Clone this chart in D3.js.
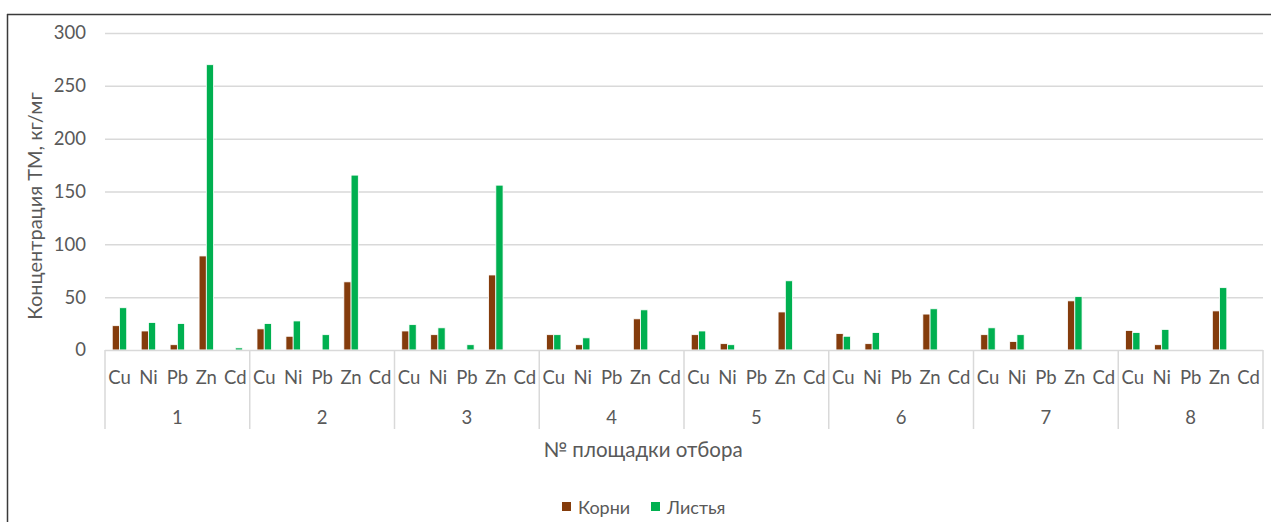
<!DOCTYPE html>
<html>
<head>
<meta charset="utf-8">
<script src="https://cdn.jsdelivr.net/npm/d3@7/dist/d3.min.js"></script>
<style>
  html, body { margin: 0; padding: 0; background: #fff; }
  svg { display: block; font-family: Lato, "Open Sans", sans-serif; }
</style>
</head>
<body>
<svg id="chart" width="1271" height="522"></svg>
<script>
// Sampling sites and metals
const sites = ["1", "2", "3", "4", "5", "6", "7", "8"];
const metals = ["Cu", "Ni", "Pb", "Zn", "Cd"];
const seriesNames = ["Корни", "Листья"];
const seriesColors = ["#843C0C", "#00B050"];
const yTicks = [0, 50, 100, 150, 200, 250, 300];

// Concentrations per site, in metal order Cu, Ni, Pb, Zn, Cd
const roots = [
  [23, 18, 5, 89, 0],
  [20, 13, 0, 64.5, 0],
  [18, 14.5, 0, 71, 0],
  [14.5, 5, 0, 29.5, 0],
  [14.5, 6, 0, 36, 0],
  [15.5, 6, 0, 34, 0],
  [14.5, 8, 0, 46.5, 0],
  [18.5, 5, 0, 37, 0]
];
const leaves = [
  [40, 26, 25, 270, 2],
  [25, 27.5, 14.5, 165.5, 0],
  [24, 21, 5, 156, 0],
  [14.5, 11.5, 0, 38, 0],
  [18, 5, 0, 65.5, 0],
  [13, 16.5, 0, 39, 0],
  [21, 14.5, 0, 50.5, 0],
  [16.5, 19.5, 0, 59, 0]
];

const svg = d3.select("#chart");
const W = 1271, H = 522;
const plot = { left: 105, right: 1263, top: 33, bottom: 350 };
const textColor = "#595959";
const gridColor = "#D9D9D9";
const tickFont = "18.5px";

// Frame edges
svg.append("line").attr("x1", 7).attr("x2", W).attr("y1", 14.5).attr("y2", 14.5)
  .attr("stroke", "#3a3a3a").attr("stroke-width", 1.5);
svg.append("line").attr("x1", 7.5).attr("x2", 7.5).attr("y1", 14).attr("y2", H)
  .attr("stroke", "#3a3a3a").attr("stroke-width", 1.5);

// Flattened category list: one slot per (site, metal)
const cats = [];
sites.forEach((s, i) => metals.forEach((m, j) => cats.push({ site: s, metal: m, si: i, key: s + "-" + m,
  vals: [roots[i][j], leaves[i][j]] })));

const x = d3.scaleBand().domain(cats.map(d => d.key))
  .range([plot.left, plot.right]).paddingInner(0.5).paddingOuter(0.25);
const xs = d3.scaleBand().domain(seriesNames).range([0, x.bandwidth()]).padding(0);
const y = d3.scaleLinear().domain([0, 300]).range([plot.bottom, plot.top]);

// Gridlines
svg.append("g").selectAll("line").data(yTicks.filter(t => t > 0)).join("line")
  .attr("x1", plot.left).attr("x2", plot.right)
  .attr("y1", d => y(d) + 0.5).attr("y2", d => y(d) + 0.5)
  .attr("stroke", gridColor).attr("stroke-width", 1.5);

// Y axis tick labels
const yAxis = d3.axisLeft(y).tickValues(yTicks).tickSize(0).tickPadding(19);
const gy = svg.append("g").attr("transform", `translate(${plot.left},0)`).call(yAxis);
gy.select(".domain").remove();
gy.selectAll("text").attr("fill", textColor).style("font-size", tickFont)
  .style("font-family", "Lato, sans-serif");

// Bars
const catG = svg.append("g").selectAll("g").data(cats).join("g")
  .attr("transform", d => `translate(${x(d.key)},0)`);
catG.selectAll("rect").data(d => d.vals.map((v, k) => ({ v, k }))).join("rect")
  .filter(d => d.v > 0)
  .attr("x", d => xs(seriesNames[d.k]))
  .attr("width", xs.bandwidth())
  .attr("y", d => y(d.v))
  .attr("height", d => y(0) - y(d.v))
  .attr("fill", d => seriesColors[d.k])
  .attr("stroke", "#fff").attr("stroke-width", 0.8);

// Category axis: baseline, group dividers and two label rows
const step = (plot.right - plot.left) / cats.length;
svg.append("line").attr("x1", plot.left).attr("x2", plot.right)
  .attr("y1", plot.bottom + 0.5).attr("y2", plot.bottom + 0.5)
  .attr("stroke", gridColor).attr("stroke-width", 1.5);
const groupW = step * metals.length;
svg.append("g").selectAll("line").data(d3.range(sites.length + 1)).join("line")
  .attr("x1", i => plot.left + i * groupW).attr("x2", i => plot.left + i * groupW)
  .attr("y1", plot.bottom).attr("y2", 429)
  .attr("stroke", gridColor).attr("stroke-width", 1.5);

svg.append("g").selectAll("text").data(cats).join("text")
  .attr("x", (d, i) => plot.left + (i + 0.5) * step)
  .attr("y", 384)
  .attr("text-anchor", "middle").attr("fill", textColor).style("font-size", tickFont)
  .text(d => d.metal);

svg.append("g").selectAll("text").data(sites).join("text")
  .attr("x", (d, i) => plot.left + (i + 0.5) * groupW)
  .attr("y", 424)
  .attr("text-anchor", "middle").attr("fill", textColor).style("font-size", tickFont)
  .text(d => d);

// Axis titles
svg.append("text").attr("x", 643).attr("y", 457).attr("text-anchor", "middle")
  .attr("fill", textColor).style("font-size", "20.5px").text("№ площадки отбора");
svg.append("text").attr("transform", "translate(42,206) rotate(-90)")
  .attr("text-anchor", "middle").attr("fill", textColor).style("font-size", "20px")
  .text("Концентрация ТМ, кг/мг");

// Legend
const legendItems = [
  { name: seriesNames[0], color: seriesColors[0], x: 562 },
  { name: seriesNames[1], color: seriesColors[1], x: 651 }
];
const lg = svg.append("g").selectAll("g").data(legendItems).join("g")
  .attr("transform", d => `translate(${d.x},0)`);
lg.append("rect").attr("x", 0).attr("y", 502).attr("width", 9).attr("height", 9)
  .attr("fill", d => d.color);
lg.append("text").attr("x", 16).attr("y", 514).attr("fill", textColor)
  .style("font-size", "18px").text(d => d.name);
</script>
</body>
</html>
